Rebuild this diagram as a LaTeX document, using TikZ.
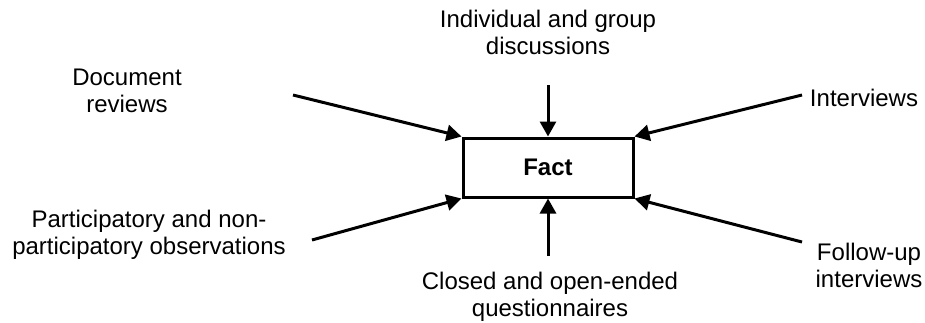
\documentclass[tikz,border=0pt]{standalone}
\usepackage{fontspec}
\setmainfont{Liberation Sans}
\usetikzlibrary{arrows.meta}
\begin{document}
\begin{tikzpicture}[x=0.5pt,y=-0.5pt,
  lbl/.style={align=center,inner sep=0pt,font=\fontsize{12}{13.5}\selectfont},
  factbox/.style={draw,line width=1.5pt,minimum width=85pt,minimum height=29.5pt,inner sep=0pt,font=\fontsize{12}{14}\selectfont\bfseries},
  arr/.style={line width=1.5pt,-{Triangle[length=7.5pt,width=8pt]}}]
\useasboundingbox (0,0) rectangle (925,322);
\node[factbox] (fact) at (548,167.5) {Fact};
\node[lbl] (disc) at (548,32) {Individual and group\\discussions};
\node[lbl] (quest) at (550,297) {Closed and open-ended\\questionnaires};
\node[lbl] (doc) at (127,91) {Document\\reviews};
\node[lbl] (obs) at (149,235) {Participatory and non-\\participatory observations};
\node[lbl] (int) at (864,98) {Interviews};
\node[lbl] (fol) at (869,265) {Follow-up\\interviews};
\coordinate (cdisc) at (548,85);
\coordinate (cquest) at (548,256);
\coordinate (cdoc) at (293,95);
\coordinate (cobs) at (312,240);
\coordinate (cint) at (802,95);
\coordinate (cfol) at (802,242);
\draw[arr] (cdisc) -- (fact.north);
\draw[arr] (cquest) -- (fact.south);
\draw[arr] (cdoc) -- (fact.north west);
\draw[arr] (cobs) -- (fact.south west);
\draw[arr] (cint) -- (fact.north east);
\draw[arr] (cfol) -- (fact.south east);
\end{tikzpicture}
\end{document}
